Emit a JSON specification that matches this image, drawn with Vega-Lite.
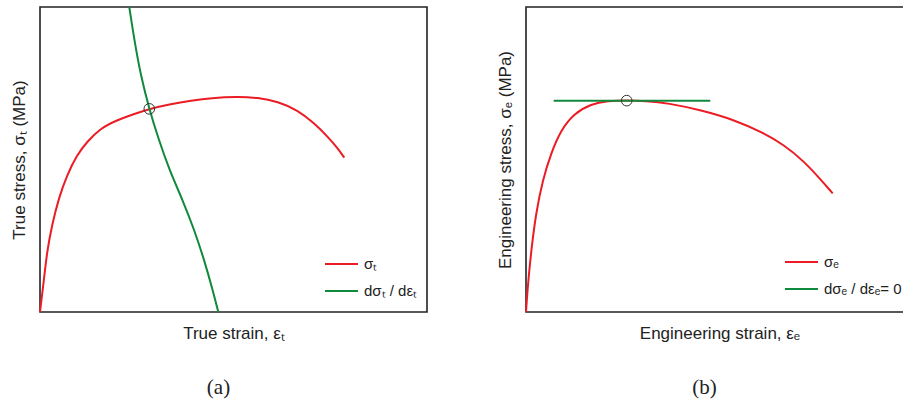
{
  "$schema": "https://vega.github.io/schema/vega-lite/v6.json",
  "padding": {"left": 9, "top": 2, "right": 0, "bottom": 0},
  "background": "white",
  "config": {
    "view": {"stroke": "#222", "strokeWidth": 1.6},
    "axis": {
      "domain": false, "ticks": false, "labels": false, "grid": false,
      "titleFont": "Liberation Sans", "titleFontSize": 17, "titleFontWeight": "normal",
      "titleColor": "#222"
    },
    "axisX": {"titlePadding": 13},
    "axisY": {"titlePadding": 12},
    "legend": {
      "orient": "bottom-right", "offset": 9, "padding": 0,
      "symbolType": "stroke", "symbolSize": 1089, "symbolStrokeWidth": 2,
      "labelFont": "Liberation Sans", "labelFontSize": 15, "labelColor": "#222",
      "labelOffset": 5, "clipHeight": 24, "rowPadding": 3
    },
    "title": {
      "orient": "bottom", "anchor": "middle", "frame": "bounds",
      "font": "Liberation Serif", "fontSize": 21, "fontWeight": "normal",
      "color": "#222", "offset": 36
    },
    "concat": {"spacing": 67}
  },
  "datasets": {
    "true_curves": [
      {"series": "σₜ", "strain": 0, "stress": 0},
      {"series": "σₜ", "strain": 0.96, "stress": 9.9},
      {"series": "σₜ", "strain": 1.81, "stress": 19.8},
      {"series": "σₜ", "strain": 3.10, "stress": 28.5},
      {"series": "σₜ", "strain": 4.83, "stress": 37.3},
      {"series": "σₜ", "strain": 6.98, "stress": 44.9},
      {"series": "σₜ", "strain": 9.56, "stress": 51.5},
      {"series": "σₜ", "strain": 12.14, "stress": 55.8},
      {"series": "σₜ", "strain": 15.58, "stress": 60.2},
      {"series": "σₜ", "strain": 19.90, "stress": 62.9},
      {"series": "σₜ", "strain": 24.21, "stress": 64.9},
      {"series": "σₜ", "strain": 28.24, "stress": 66.6},
      {"series": "σₜ", "strain": 33.85, "stress": 68.2},
      {"series": "σₜ", "strain": 39.02, "stress": 69.3},
      {"series": "σₜ", "strain": 44.19, "stress": 70.2},
      {"series": "σₜ", "strain": 51.09, "stress": 70.6},
      {"series": "σₜ", "strain": 56.25, "stress": 70.3},
      {"series": "σₜ", "strain": 61.42, "stress": 69.0},
      {"series": "σₜ", "strain": 66.59, "stress": 66.2},
      {"series": "σₜ", "strain": 70.88, "stress": 61.9},
      {"series": "σₜ", "strain": 74.34, "stress": 57.5},
      {"series": "σₜ", "strain": 76.93, "stress": 53.7},
      {"series": "σₜ", "strain": 78.63, "stress": 50.6},
      {"series": "dσₜ / dεₜ", "strain": 23.07, "stress": 100},
      {"series": "dσₜ / dεₜ", "strain": 24.37, "stress": 89.2},
      {"series": "dσₜ / dεₜ", "strain": 26.10, "stress": 77.1},
      {"series": "dσₜ / dεₜ", "strain": 28.24, "stress": 66.6},
      {"series": "dσₜ / dεₜ", "strain": 30.41, "stress": 57.5},
      {"series": "dσₜ / dεₜ", "strain": 33.41, "stress": 46.6},
      {"series": "dσₜ / dεₜ", "strain": 36.87, "stress": 36.7},
      {"series": "dσₜ / dεₜ", "strain": 39.87, "stress": 26.9},
      {"series": "dσₜ / dεₜ", "strain": 42.45, "stress": 17.0},
      {"series": "dσₜ / dεₜ", "strain": 44.63, "stress": 7.2},
      {"series": "dσₜ / dεₜ", "strain": 46.07, "stress": 0}
    ],
    "true_necking": [
      {"strain": 28.24, "stress": 66.6}
    ],
    "eng_curves": [
      {"series": "σₑ", "strain": 0, "stress": 0},
      {"series": "σₑ", "strain": 0.59, "stress": 10.5},
      {"series": "σₑ", "strain": 1.47, "stress": 21.4},
      {"series": "σₑ", "strain": 2.58, "stress": 32.4},
      {"series": "σₑ", "strain": 4.32, "stress": 43.3},
      {"series": "σₑ", "strain": 6.46, "stress": 52.0},
      {"series": "σₑ", "strain": 9.04, "stress": 59.7},
      {"series": "σₑ", "strain": 12.48, "stress": 65.1},
      {"series": "σₑ", "strain": 16.80, "stress": 68.2},
      {"series": "σₑ", "strain": 21.11, "stress": 69.2},
      {"series": "σₑ", "strain": 26.02, "stress": 69.4},
      {"series": "σₑ", "strain": 31.0, "stress": 69.2},
      {"series": "σₑ", "strain": 36.61, "stress": 68.5},
      {"series": "σₑ", "strain": 45.22, "stress": 66.2},
      {"series": "σₑ", "strain": 53.82, "stress": 63.0},
      {"series": "σₑ", "strain": 60.72, "stress": 59.1},
      {"series": "σₑ", "strain": 66.74, "stress": 54.8},
      {"series": "σₑ", "strain": 71.91, "stress": 49.3},
      {"series": "σₑ", "strain": 76.23, "stress": 43.3},
      {"series": "σₑ", "strain": 79.25, "stress": 38.9},
      {"series": "dσₑ / dεₑ= 0", "strain": 7.16, "stress": 69.3},
      {"series": "dσₑ / dεₑ= 0", "strain": 47.62, "stress": 69.3}
    ],
    "eng_necking": [
      {"strain": 26.02, "stress": 69.3}
    ]
  },
  "hconcat": [
    {
      "width": 387,
      "height": 305,
      "title": "(a)",
      "layer": [
        {
          "data": {"name": "true_curves"},
          "mark": {"type": "line", "interpolate": "basis", "strokeWidth": 2},
          "encoding": {
            "x": {"field": "strain", "type": "quantitative", "scale": {"domain": [0, 100], "nice": false}, "axis": {"title": "True strain, εₜ"}},
            "y": {"field": "stress", "type": "quantitative", "scale": {"domain": [0, 100], "nice": false}, "axis": {"title": "True stress, σₜ (MPa)"}},
            "color": {
              "field": "series", "type": "nominal",
              "scale": {"domain": ["σₜ", "dσₜ / dεₜ"], "range": ["#ec1c24", "#0f8a3c"]},
              "legend": {"title": null}
            }
          }
        },
        {
          "data": {"name": "true_necking"},
          "mark": {"type": "point", "shape": "circle", "filled": false, "size": 113, "stroke": "#333", "strokeWidth": 1, "opacity": 1},
          "encoding": {
            "x": {"field": "strain", "type": "quantitative"},
            "y": {"field": "stress", "type": "quantitative"}
          }
        }
      ]
    },
    {
      "width": 387,
      "height": 305,
      "title": "(b)",
      "layer": [
        {
          "data": {"name": "eng_curves"},
          "mark": {"type": "line", "interpolate": "basis", "strokeWidth": 2},
          "encoding": {
            "x": {"field": "strain", "type": "quantitative", "scale": {"domain": [0, 100], "nice": false}, "axis": {"title": "Engineering strain, εₑ"}},
            "y": {"field": "stress", "type": "quantitative", "scale": {"domain": [0, 100], "nice": false}, "axis": {"title": "Engineering stress, σₑ  (MPa)"}},
            "color": {
              "field": "series", "type": "nominal",
              "scale": {"domain": ["σₑ", "dσₑ / dεₑ= 0"], "range": ["#ec1c24", "#0f8a3c"]},
              "legend": {"title": null, "offset": 11}
            }
          }
        },
        {
          "data": {"name": "eng_necking"},
          "mark": {"type": "point", "shape": "circle", "filled": false, "size": 113, "stroke": "#333", "strokeWidth": 1, "opacity": 1},
          "encoding": {
            "x": {"field": "strain", "type": "quantitative"},
            "y": {"field": "stress", "type": "quantitative"}
          }
        }
      ]
    }
  ],
  "resolve": {"scale": {"color": "independent", "x": "independent", "y": "independent"}, "legend": {"color": "independent"}}
}
